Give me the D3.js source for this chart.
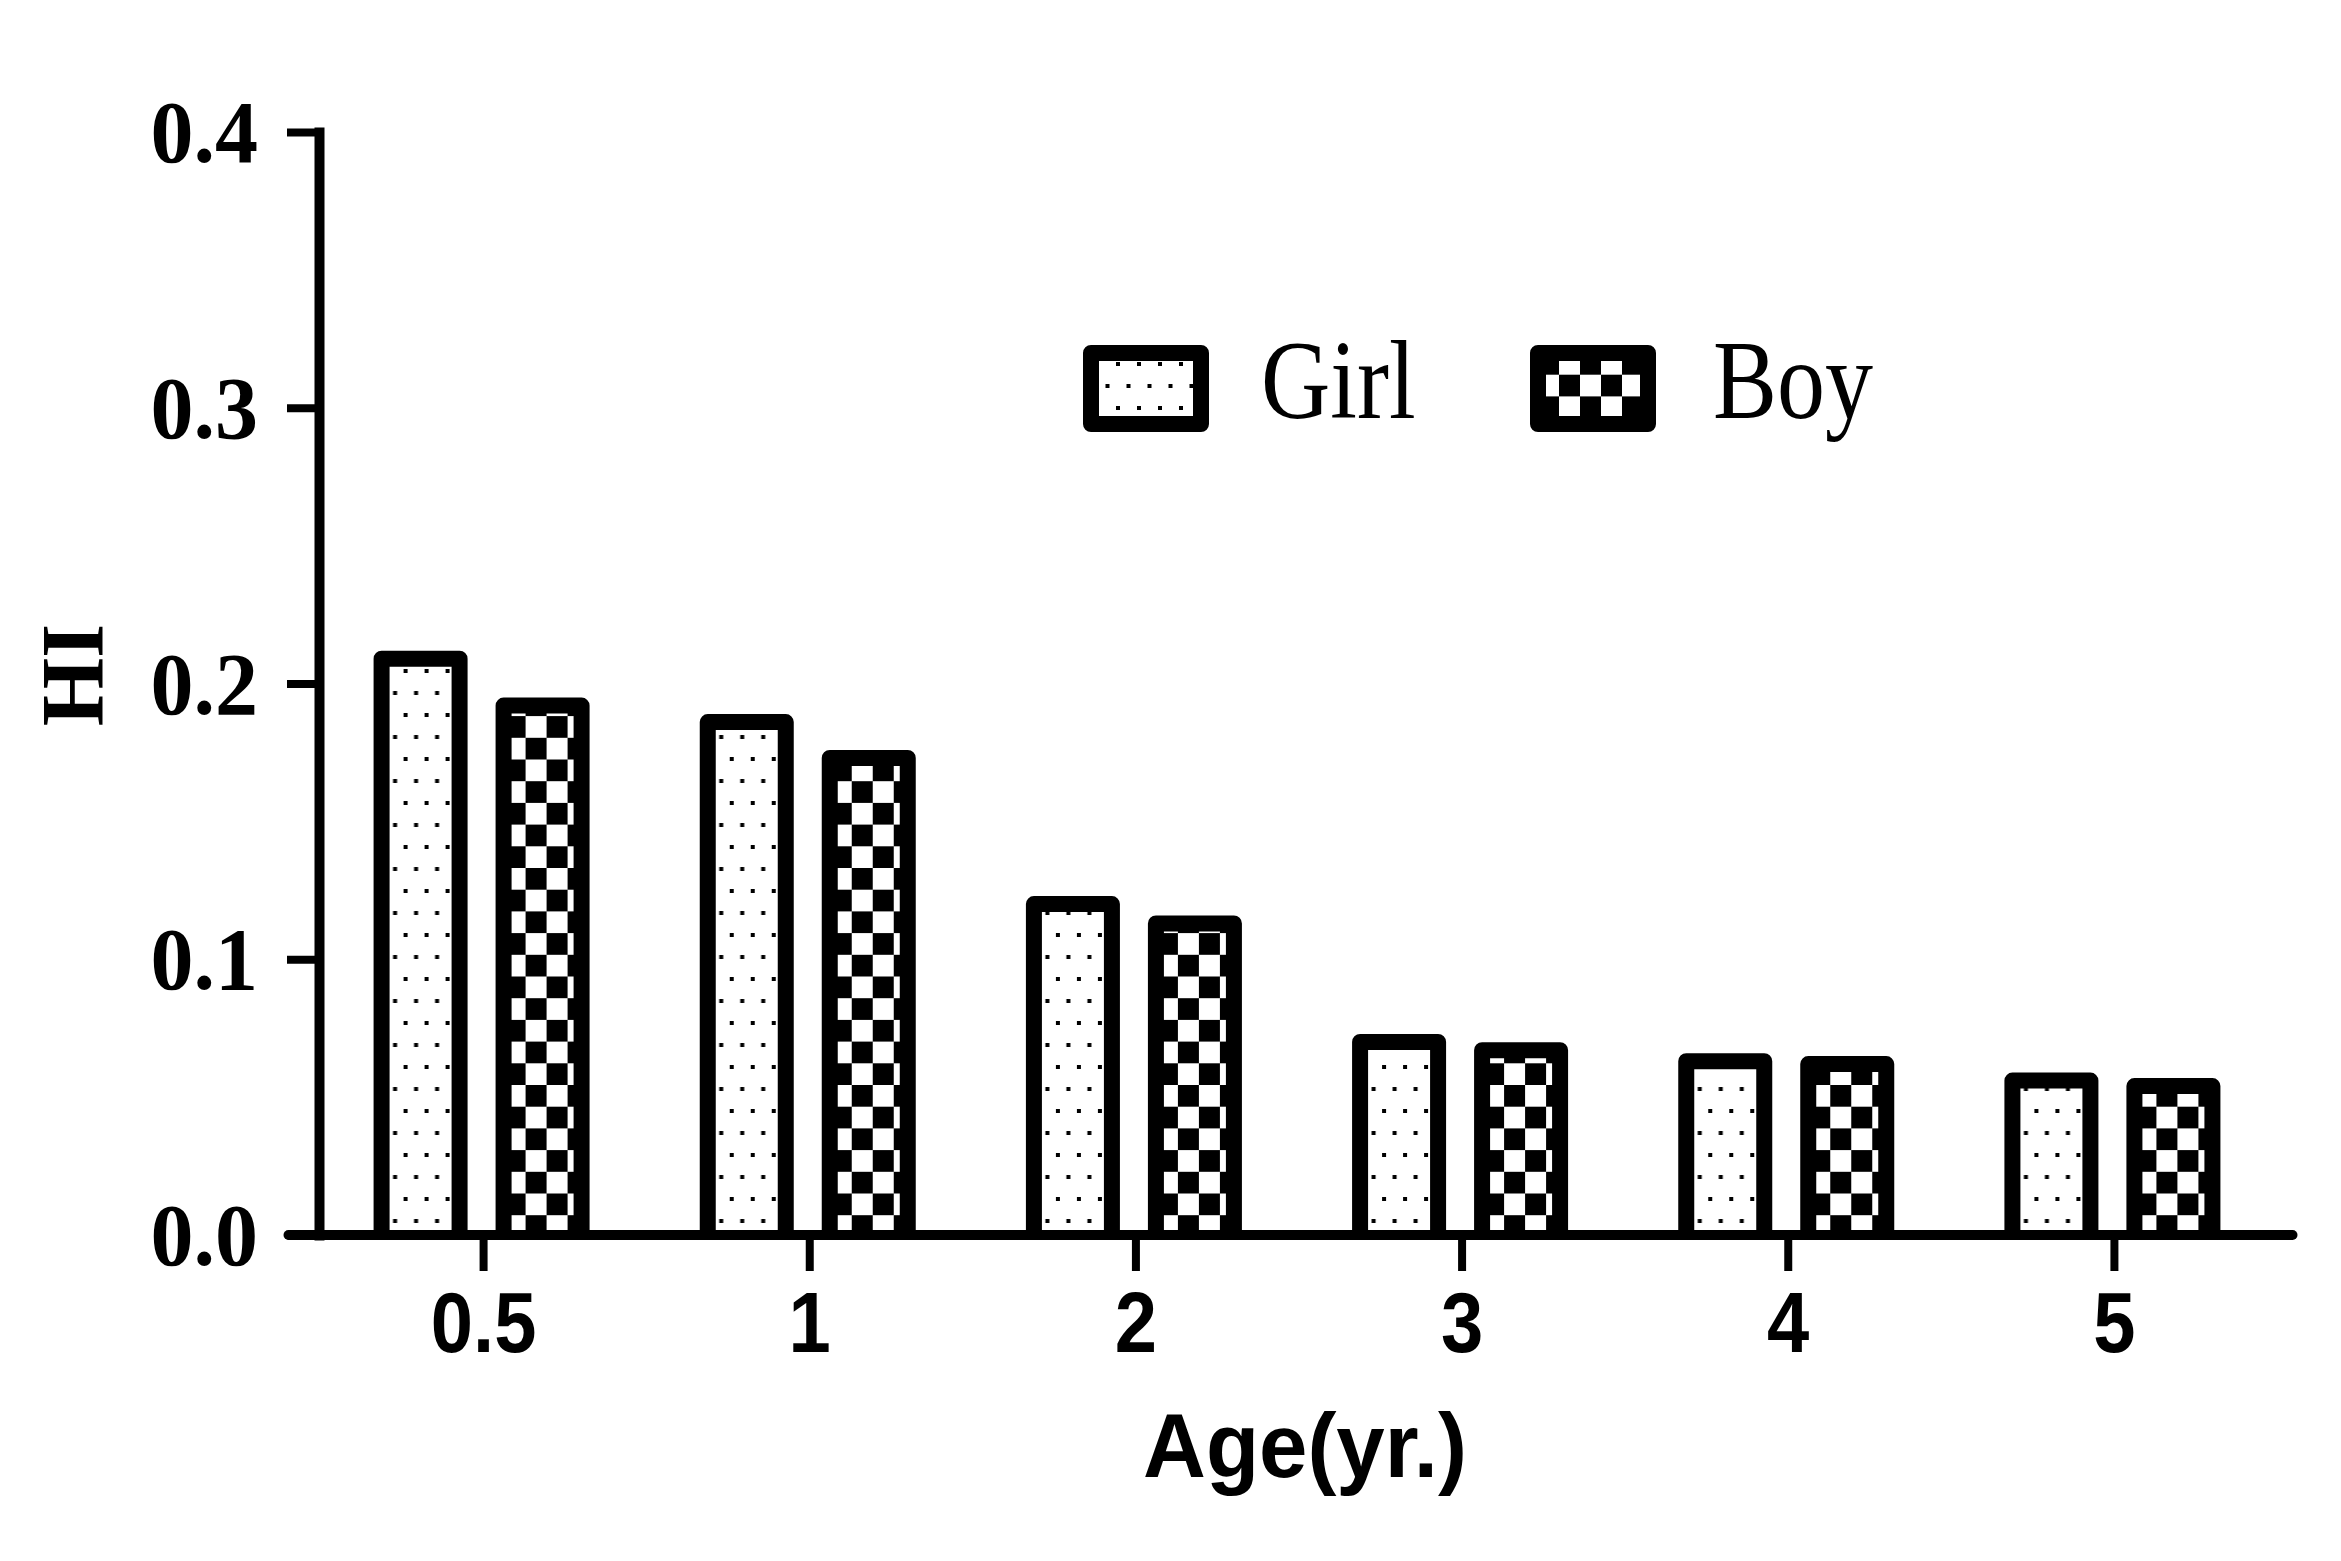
<!DOCTYPE html>
<html>
<head>
<meta charset="utf-8">
<script src="https://cdn.jsdelivr.net/npm/d3@7"></script>
<style>
  html, body { margin: 0; padding: 0; background: #fff; }
  svg { display: block; }
</style>
</head>
<body>
<script>
// ---- data ----
const categories = ["0.5", "1", "2", "3", "4", "5"];
const series = ["Girl", "Boy"];
const girlValues = [0.209, 0.186, 0.120, 0.070, 0.063, 0.056];
const boyValues  = [0.192, 0.173, 0.113, 0.067, 0.062, 0.054];
const yTicks = [0, 0.1, 0.2, 0.3, 0.4];
const yTickLabels = ["0.0", "0.1", "0.2", "0.3", "0.4"];
const xTitle = "Age(yr.)";
const yTitle = "HI";

const W = 2341, H = 1561;
const svg = d3.select("body").append("svg")
  .attr("width", W).attr("height", H)
  .attr("viewBox", `0 0 ${W} ${H}`);

svg.append("rect").attr("width", W).attr("height", H).attr("fill", "#fff");

// ---- patterns ----
const defs = svg.append("defs");
const dots = defs.append("pattern").attr("id", "dots")
  .attr("patternUnits", "userSpaceOnUse").attr("width", 21).attr("height", 44);
dots.append("rect").attr("width", 21).attr("height", 44).attr("fill", "#fff");
dots.append("rect").attr("x", 4).attr("y", 9).attr("width", 4).attr("height", 4).attr("fill", "#000");
dots.append("rect").attr("x", 14.5).attr("y", 31).attr("width", 4).attr("height", 4).attr("fill", "#000");

const checker = defs.append("pattern").attr("id", "checker")
  .attr("patternUnits", "userSpaceOnUse").attr("width", 42).attr("height", 43.4);
checker.append("rect").attr("width", 42).attr("height", 43.4).attr("fill", "#fff");
checker.append("rect").attr("x", 0).attr("y", 0).attr("width", 21).attr("height", 21.7).attr("fill", "#000");
checker.append("rect").attr("x", 21).attr("y", 21.7).attr("width", 21).attr("height", 21.7).attr("fill", "#000");

const fills = { Girl: "url(#dots)", Boy: "url(#checker)" };

// ---- scales ----
const x = d3.scaleBand().domain(categories).range([320.5, 2277.5]).padding(0);
const xSub = d3.scaleBand().domain(series).range([-110, 106]).paddingInner(0.2295).paddingOuter(0);
const y = d3.scaleLinear().domain([0, 0.4]).range([1235, 132]);

const SW = 16; // bar outline width

const data = categories.map((c, i) => ({ cat: c, Girl: girlValues[i], Boy: boyValues[i] }));

// ---- bars ----
const groups = svg.append("g").selectAll("g").data(data).join("g")
  .attr("transform", d => `translate(${x(d.cat) + x.bandwidth() / 2},0)`);

groups.selectAll("path").data(d => series.map(s => ({ s, v: d[s] }))).join("path")
  .attr("d", d => {
    const l = xSub(d.s) + SW / 2;
    const r = xSub(d.s) + xSub.bandwidth() - SW / 2;
    const t = y(d.v);
    const b = y(0);
    return `M${l},${b} V${t} H${r} V${b}`;
  })
  .attr("fill", d => fills[d.s])
  .attr("stroke", "#000")
  .attr("stroke-width", SW)
  .attr("stroke-linejoin", "round");

// ---- y axis ----
const yAxisX = 319;
const yAxis = svg.append("g").attr("transform", `translate(${yAxisX},0)`)
  .call(d3.axisLeft(y).tickValues(yTicks).tickSize(32).tickSizeOuter(0).tickFormat(""));
yAxis.select(".domain").attr("stroke", "#000").attr("stroke-width", 10).attr("stroke-linecap", "square");
yAxis.selectAll(".tick line").attr("stroke", "#000").attr("stroke-width", 8);

svg.append("g").selectAll("text").data(yTicks).join("text")
  .attr("transform", d => `translate(258,${y(d) + 30}) scale(1,1.04)`)
  .attr("text-anchor", "end")
  .attr("font-family", "'Liberation Serif', 'Times New Roman', serif")
  .attr("font-weight", "bold")
  .attr("font-size", 86)
  .text((d, i) => yTickLabels[i]);

// ---- x axis ----
const xAxis = svg.append("g").attr("transform", `translate(0,${y(0)})`)
  .call(d3.axisBottom(x).tickSize(36).tickSizeOuter(0).tickFormat(""));
xAxis.select(".domain").remove();
xAxis.selectAll(".tick line").attr("stroke", "#000").attr("stroke-width", 8);
xAxis.append("line")
  .attr("x1", x.range()[0] - 32).attr("x2", x.range()[1] + 15)
  .attr("y1", 0).attr("y2", 0)
  .attr("stroke", "#000").attr("stroke-width", 10).attr("stroke-linecap", "round");

svg.append("g").selectAll("text").data(categories).join("text")
  .attr("transform", d => `translate(${x(d) + x.bandwidth() / 2},1352) scale(1,1.12)`)
  .attr("text-anchor", "middle")
  .attr("font-family", "'Liberation Sans', Arial, sans-serif")
  .attr("font-weight", "bold")
  .attr("font-size", 76)
  .text(d => d);

// ---- titles ----
svg.append("text")
  .attr("transform", "translate(1305,1477) scale(1,1.05)")
  .attr("text-anchor", "middle")
  .attr("font-family", "'Liberation Sans', Arial, sans-serif")
  .attr("font-weight", "bold")
  .attr("font-size", 87)
  .text(xTitle);

svg.append("text")
  .attr("transform", "translate(102,675) rotate(-90)")
  .attr("text-anchor", "middle")
  .attr("font-family", "'Liberation Serif', 'Times New Roman', serif")
  .attr("font-weight", "bold")
  .attr("font-size", 88)
  .text(yTitle);

// ---- legend ----
const legendX = { Girl: 1091, Boy: 1538 };
const leg = svg.append("g").selectAll("g").data(series).join("g")
  .attr("transform", d => `translate(${legendX[d]},353)`);
leg.append("rect")
  .attr("width", 110).attr("height", 71)
  .attr("fill", d => fills[d])
  .attr("stroke", "#000").attr("stroke-width", SW)
  .attr("stroke-linejoin", "round");
leg.append("text")
  .attr("transform", d => `translate(${d === "Boy" ? 175 : 170},65) scale(1,1.17)`)
  .attr("font-family", "'Liberation Serif', 'Times New Roman', serif")
  .attr("font-size", 96)
  .text(d => d);
</script>
</body>
</html>
